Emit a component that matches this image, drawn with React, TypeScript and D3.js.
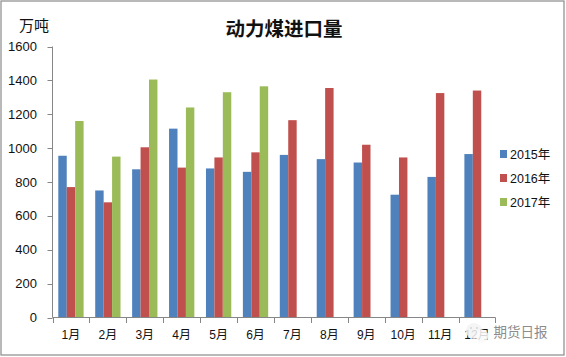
import React from "react";
import * as d3 from "d3";

const months = ["1月","2月","3月","4月","5月","6月","7月","8月","9月","10月","11月","12月"];
const seriesNames = ["2015年","2016年","2017年"];
const colors = ["#4F81BD","#C0504D","#9BBB59"];
const v2015 = [955,750,875,1115,880,860,960,935,915,725,830,965];
const v2016 = [770,680,1005,885,945,975,1165,1355,1020,945,1325,1340];
const v2017 = [1160,950,1405,1240,1330,1365];
const yTicks = [0,200,400,600,800,1000,1200,1400,1600];
const seriesValues = [v2015,v2016,v2017];

const font = "'Liberation Sans','Noto Sans CJK SC',sans-serif";
const cjk = "'Noto Sans CJK SC',sans-serif";

export default function App() {
  const x = d3.scaleBand<string>().domain(months).range([52.5,495.5]);
  const y = d3.scaleLinear().domain([0,1600]).range([317.5,46.5]);
  const inner = d3.scaleBand<string>().domain(seriesNames).range([5.8,31.1]);
  return (
    <svg width={566} height={357} style={{position:"absolute",left:0,top:0,background:"#fff"}}>
      <rect x={1} y={1} width={563} height={354} fill="#fff" stroke="#8a8a8a" strokeWidth={1.2}/>
      <text x={284} y={36} textAnchor="middle" fontFamily={cjk} fontSize={19.5} fontWeight={700} fill="#111">动力煤进口量</text>
      <text x={19} y={31} fontFamily={cjk} fontSize={15} fill="#111">万吨</text>
      {seriesValues.map((vals,s)=>vals.map((v,i)=>(
        <rect key={s+"-"+i} x={(x(months[i]) as number)+(inner(seriesNames[s]) as number)} y={y(v)} width={inner.bandwidth()} height={y(0)-y(v)} fill={colors[s]}/>
      )))}
      <line x1={52.5} x2={52.5} y1={46.5} y2={317.5} stroke="#868686"/>
      <line x1={52.5} x2={495.5} y1={317.5} y2={317.5} stroke="#868686"/>
      {yTicks.map(t=>(
        <g key={t}>
          <line x1={47.5} x2={52.5} y1={Math.round(y(t))+0.5} y2={Math.round(y(t))+0.5} stroke="#868686"/>
          <text x={37} y={y(t)+4.5} textAnchor="end" fontFamily={font} fontSize={13} fill="#111">{t}</text>
        </g>
      ))}
      {months.map((m,i)=>(
        <g key={m}>
          <line x1={Math.round(x(m) as number)+0.5} x2={Math.round(x(m) as number)+0.5} y1={317.5} y2={323} stroke="#868686"/>
          <text x={(x(m) as number)+x.bandwidth()/2} y={339} textAnchor="middle" fontFamily={font} fontSize={12} fill="#111">{m}</text>
        </g>
      ))}
      <line x1={495.5} x2={495.5} y1={317.5} y2={323} stroke="#868686"/>
      {seriesNames.map((n,i)=>(
        <g key={n}>
          <rect x={500} y={150+i*24} width={7} height={8} fill={colors[i]}/>
          <text x={510} y={158.5+i*24} fontFamily={font} fontSize={12.5} fill="#111">{n}</text>
        </g>
      ))}
      <g opacity={0.85}>
        <circle cx={474} cy={331} r={8} fill="#f4f4f4"/>
        <circle cx={482} cy={336} r={6.5} fill="#fafafa"/>
        <circle cx={471} cy={328} r={1} fill="#cfcfcf"/>
        <circle cx={477} cy={328} r={1} fill="#cfcfcf"/>
      </g>
      <text x={493.5} y={337} fontFamily={cjk} fontSize={13.5} fill="#8c8c8c">期货日报</text>
    </svg>
  );
}
